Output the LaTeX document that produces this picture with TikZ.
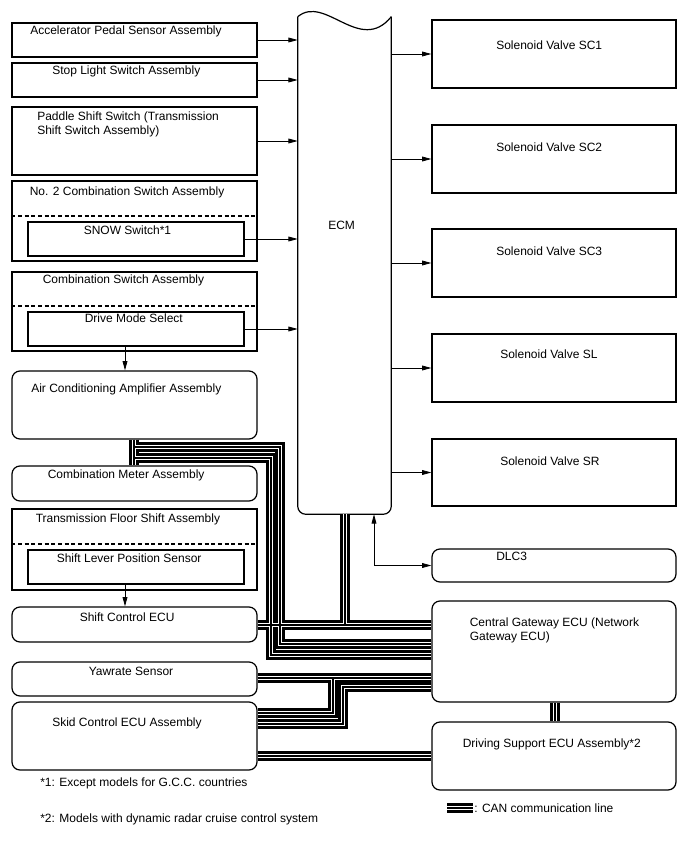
\documentclass[tikz,border=0pt]{standalone}
\usepackage{fontspec}
\setmainfont{Liberation Sans}
\usetikzlibrary{arrows.meta,fit}
\begin{document}
\begin{tikzpicture}[x=0.75pt,y=-0.75pt,
  bx/.style={draw, line width=0.9pt, inner sep=0pt},
  rbx/.style={bx, rounded corners=6pt},
  tx/.style={inner sep=0pt, anchor=base west, font=\fontsize{9pt}{10.5pt}\selectfont},
  arr/.style={line width=0.6pt, -{Triangle[length=7pt,width=3.6pt]}},
  darr/.style={line width=0.6pt, {Triangle[length=7pt,width=3.6pt]}-{Triangle[length=7pt,width=3.6pt]}},
  dsh/.style={line width=0.8pt, dash pattern=on 3pt off 2pt}]
\useasboundingbox (0,0) rectangle (688,852);

% ---------- left column ----------
\node[bx, fit={(12,23) (257,57)}] (acc) {};
\node[tx] (tacc) at (30,35) {Accelerator Pedal Sensor Assembly};
\node[bx, fit={(12,63) (257,97)}] (stp) {};
\node[tx] (tstp) at (52,75) {Stop Light Switch Assembly};
\node[bx, fit={(12,107) (257,175)}] (pad) {};
\node[tx] (tpad1) at (37,120.5) {Paddle Shift Switch (Transmission};
\node[tx] (tpad2) at (37,134.5) {Shift Switch Assembly)};

\node[bx, fit={(12,181) (257,261)}] (cs2) {};
\node[tx] (tcs2) at (29.5,196) {No. 2 Combination Switch Assembly};
\draw[dsh] (cs2.west |- 0,216) -- (cs2.east |- 0,216);
\node[bx, fit={(28,222) (244,256)}] (snw) {};
\node[tx] (tsnw) at (83.5,234) {SNOW Switch*1};

\node[bx, fit={(12,272) (257,351)}] (cs) {};
\node[tx] (tcs) at (42.5,283) {Combination Switch Assembly};
\draw[dsh] (cs.west |- 0,306) -- (cs.east |- 0,306);
\node[bx, fit={(28,312) (244,346)}] (dms) {};
\node[tx] (tdms) at (84.5,322.5) {Drive Mode Select};

\node[rbx, fit={(12,371) (257,439)}] (ac) {};
\node[tx] (tac) at (31,392) {Air Conditioning Amplifier Assembly};
\node[rbx, fit={(12,466) (257,501)}] (cm) {};
\node[tx] (tcm) at (47.5,478) {Combination Meter Assembly};

\node[bx, fit={(12,509) (257,590)}] (tfs) {};
\node[tx] (ttfs) at (35.5,522) {Transmission Floor Shift Assembly};
\draw[dsh] (tfs.west |- 0,544) -- (tfs.east |- 0,544);
\node[bx, fit={(28,550) (244,584)}] (slp) {};
\node[tx] (tslp) at (56.5,562) {Shift Lever Position Sensor};

\node[rbx, fit={(12,607) (257,642)}] (sc) {};
\node[tx] (tsc) at (79.5,621) {Shift Control ECU};
\node[rbx, fit={(12,662) (257,696)}] (yaw) {};
\node[tx] (tyaw) at (88.5,675.5) {Yawrate Sensor};
\node[rbx, fit={(12,702) (257,770)}] (skid) {};
\node[tx] (tskid) at (52,726) {Skid Control ECU Assembly};

% ---------- ECM ----------
\node[inner sep=0pt, fit={(298,17) (391,514)}] (ecm) {};
\draw[line width=0.9pt, rounded corners=6pt] (ecm.north west) -- (ecm.south west) -- (ecm.south east) -- (ecm.north east);
\draw[line width=0.9pt] (ecm.north east) .. controls (360,55) and (325,-6) .. (ecm.north west);
\node[tx] (tecm) at (328,229) {ECM};

% ---------- right column ----------
\node[bx, fit={(432,20) (676,88)}] (sc1) {};
\node[tx] (tsc1) at (496,49.5) {Solenoid Valve SC1};
\node[bx, fit={(432,125) (676,193)}] (sc2) {};
\node[tx] (tsc2) at (496,151.5) {Solenoid Valve SC2};
\node[bx, fit={(432,229) (676,297)}] (sc3) {};
\node[tx] (tsc3) at (496,255.5) {Solenoid Valve SC3};
\node[bx, fit={(432,334) (676,402)}] (sl) {};
\node[tx] (tsl) at (500,358.5) {Solenoid Valve SL};
\node[bx, fit={(432,439) (676,506)}] (sr) {};
\node[tx] (tsr) at (500,465.5) {Solenoid Valve SR};

\node[rbx, fit={(432,549) (676,582)}] (dlc) {};
\node[tx] (tdlc) at (496,560) {DLC3};
\node[rbx, fit={(432,601) (676,702)}] (gw) {};
\node[tx] (tgw1) at (469.5,626.5) {Central Gateway ECU (Network};
\node[tx] (tgw2) at (469.5,640.5) {Gateway ECU)};
\node[rbx, fit={(432,722) (676,790)}] (ds) {};
\node[tx] (tds) at (462.5,747.5) {Driving Support ECU Assembly*2};

% ---------- signal arrows ----------
\foreach \n in {acc,stp,pad,snw,dms}
  \draw[arr] (\n.east) -- (\n.east -| ecm.west);
\foreach \n in {sc1,sc2,sc3,sl,sr}
  \draw[arr] (\n.west -| ecm.east) -- (\n.west);
\coordinate (xd) at (125,0);
\draw[arr] (dms.south -| xd) -- (ac.north -| xd);
\draw[arr] (slp.south -| xd) -- (sc.north -| xd);
\coordinate (xdl) at (374,0);
\draw[darr] (ecm.south -| xdl) -- (xdl |- dlc.west) -- (dlc.west);

% ---------- CAN lines ----------
\coordinate (xAC) at (134,0);
\coordinate (yA) at (0,447);
\coordinate (yB) at (0,458);
\coordinate (xA) at (280,0);
\coordinate (xB) at (271,0);
\coordinate (yA2) at (0,644);
\coordinate (yB2) at (0,655);
\coordinate (yBus) at (0,625);
\coordinate (xE) at (345,0);
\coordinate (yY) at (0,678);
\coordinate (xS1) at (333,0);
\coordinate (yS1) at (0,713);
\coordinate (xS2) at (343,0);
\coordinate (yS2) at (0,724);
\coordinate (yY2) at (0,687);
\coordinate (yS3) at (0,756);
\coordinate (xGD) at (555,0);
\coordinate (lg1) at (447,808);
\coordinate (lg2) at (473,808);
\foreach \w/\c in {6.9pt/black, 3.2pt/white, 1.2pt/black}{
  \draw[line width=\w, draw=\c]
    (ac.south -| xAC) -- (cm.north -| xAC)
    (xAC |- yA) -- (xA |- yA) -- (xA |- yA2) -- (gw.west |- yA2)
    (xAC |- yB) -- (xB |- yB) -- (xB |- yB2) -- (gw.west |- yB2)
    (sc.east |- yBus) -- (gw.west |- yBus)
    (ecm.south -| xE) -- (xE |- yBus)
    (yaw.east |- yY) -- (gw.west |- yY)
    (skid.east |- yS1) -- (xS1 |- yS1) -- (xS1 |- yY)
    (skid.east |- yS2) -- (xS2 |- yS2) -- (xS2 |- yY2) -- (gw.west |- yY2)
    (skid.east |- yS3) -- (ds.west |- yS3)
    (gw.south -| xGD) -- (ds.north -| xGD)
    (lg1) -- (lg2);
}

% ---------- notes ----------
\node[tx] (n1) at (40,786) {*1: Except models for G.C.C. countries};
\node[tx] (n2) at (40,822) {*2: Models with dynamic radar cruise control system};
\node[tx] (n3) at (474,812) {: CAN communication line};
\end{tikzpicture}
\end{document}
